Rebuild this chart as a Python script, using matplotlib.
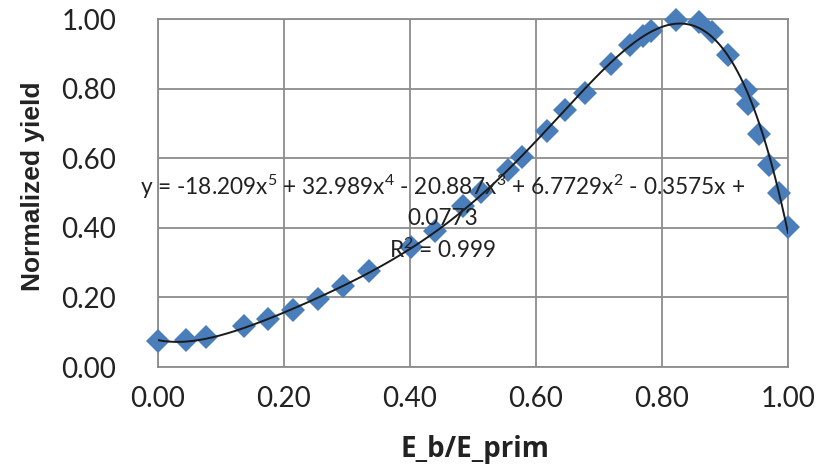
import numpy as np
import matplotlib
matplotlib.use("Agg")
import matplotlib.pyplot as plt

# Measured yield vs. energy ratio
energy_ratio = [0.000, 0.044, 0.076, 0.137, 0.174, 0.214, 0.254, 0.294, 0.335,
                0.402, 0.439, 0.484, 0.513, 0.556, 0.577, 0.617, 0.646, 0.677,
                0.719, 0.750, 0.770, 0.783, 0.822, 0.859, 0.880, 0.905, 0.933,
                0.937, 0.954, 0.970, 0.986, 1.000]
norm_yield = [0.076, 0.078, 0.085, 0.118, 0.137, 0.164, 0.195, 0.233, 0.275,
              0.346, 0.392, 0.463, 0.504, 0.566, 0.604, 0.678, 0.739, 0.788,
              0.872, 0.925, 0.951, 0.966, 0.998, 0.992, 0.964, 0.897, 0.796,
              0.756, 0.669, 0.580, 0.499, 0.403]

# 5th-order polynomial trendline coefficients (highest power first)
trend_coeffs = [-18.209, 32.989, -20.887, 6.7729, -0.3575, 0.0773]
r_squared = 0.999

tick_values = [0.0, 0.2, 0.4, 0.6, 0.8, 1.0]
tick_labels = ["0.00", "0.20", "0.40", "0.60", "0.80", "1.00"]

plt.rcParams["font.family"] = ["Lato", "DejaVu Sans"]
plt.rcParams["mathtext.fontset"] = "custom"
plt.rcParams["mathtext.rm"] = "Lato"
plt.rcParams["mathtext.it"] = "Lato"
plt.rcParams["mathtext.default"] = "regular"

fig = plt.figure(figsize=(8.29, 4.71), dpi=100)
ax = fig.add_axes([158 / 829, 1 - 367 / 471, 630 / 829, 348 / 471])

grid_col = "#8c8c8c"
text_col = "#222222"
ax.set_xlim(0, 1)
ax.set_ylim(0, 1)
ax.set_xticks(tick_values)
ax.set_yticks(tick_values)
ax.set_xticklabels(tick_labels)
ax.set_yticklabels(tick_labels)
ax.grid(True, color=grid_col, linewidth=1.3)
ax.set_axisbelow(True)
for s in ax.spines.values():
    s.set_color(grid_col)
    s.set_linewidth(1.3)
ax.tick_params(length=0, labelsize=20, colors=text_col, pad=14)
ax.tick_params(axis="y", pad=30)

ax.plot(energy_ratio, norm_yield, linestyle="none", marker="D",
        markersize=12, color="#4a7ebb", markeredgewidth=0, clip_on=False,
        zorder=3)

xs = np.linspace(0, 1, 400)
ax.plot(xs, np.polyval(trend_coeffs, xs), color="#1a1a1a", linewidth=1.4,
        zorder=4)

# Trendline equation and fit quality
powers = len(trend_coeffs) - 1
line1 = "y = "
for i, c in enumerate(trend_coeffs[:-1]):
    p = powers - i
    sign = "-" if c < 0 else "+"
    term = f"{abs(c):g}" + ("x" if p == 1 else f"x$^{{{p}}}$")
    if i == 0:
        line1 += ("-" if c < 0 else "") + term
    else:
        line1 += f" {sign} " + term
line1 += " +" if trend_coeffs[-1] >= 0 else " -"
label = f"{line1}\n{abs(trend_coeffs[-1]):g}\nR$^2$ = {r_squared:g}"
ax.text(0.4516, 0.43, label, transform=ax.transAxes, ha="center",
        va="center", fontsize=16.3, color=text_col, linespacing=1.42,
        zorder=5)

fig.text(475 / 829, 1 - 450 / 471, "E_b/E_prim", ha="center", va="center",
         fontsize=20, fontweight="bold", family=["Open Sans", "DejaVu Sans"],
         color=text_col)
fig.text(33 / 829, 1 - 186 / 471, "Normalized yield", ha="center",
         va="center", rotation=90, fontsize=19, fontweight="bold",
         family=["Liberation Sans", "DejaVu Sans"], color=text_col)

fig.savefig("out.png", dpi=100)
